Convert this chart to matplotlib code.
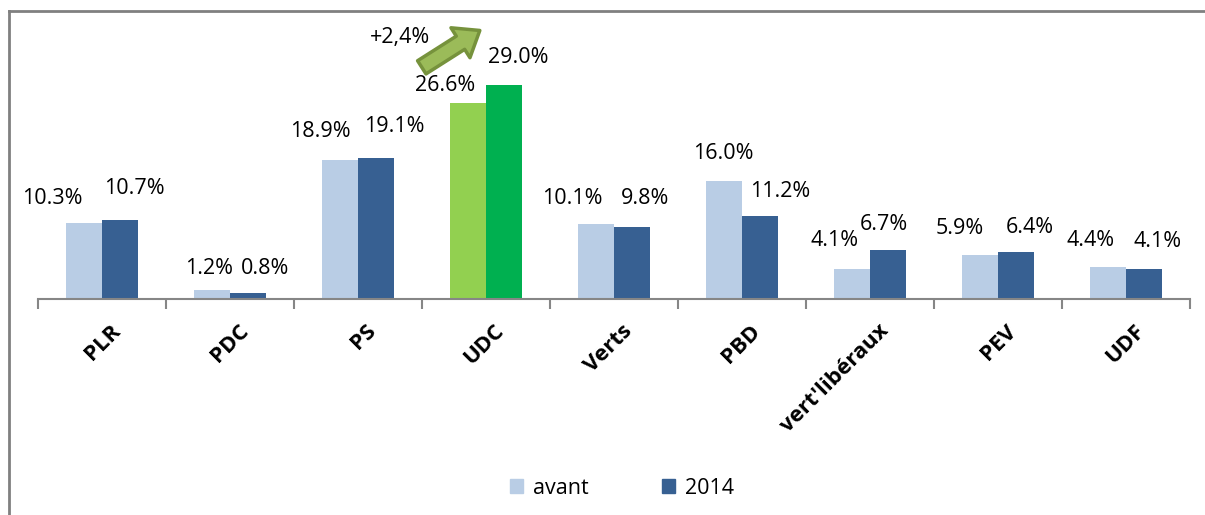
import numpy as np
import matplotlib.pyplot as plt
from matplotlib.patches import FancyArrowPatch, Patch
from matplotlib.lines import Line2D

plt.rcParams['font.family'] = ['Open Sans', 'DejaVu Sans']

partis = ["PLR", "PDC", "PS", "UDC", "Verts", "PBD", "vert'libéraux", "PEV", "UDF"]
avant = [10.3, 1.2, 18.9, 26.6, 10.1, 16.0, 4.1, 5.9, 4.4]
an2014 = [10.7, 0.8, 19.1, 29.0, 9.8, 11.2, 6.7, 6.4, 4.1]
hausse = "+2,4%"

# label offsets in pixels (dx, dy) from the top of each bar
off_avant = [(-32, 25), (-3, 22), (-20, 28), (-23, 17), (-24, 26), (-1, 27), (-18, 28), (-20, 27), (-18, 26)]
off_2014 = [(14, 32), (17, 25), (18, 32), (14, 28), (13, 28), (20, 25), (-4, 25), (14, 24), (14, 27)]

c_avant = '#B9CDE5'
c_2014 = '#376092'
c_udc_avant = '#92D050'
c_udc_2014 = '#00B050'

fig = plt.figure(figsize=(12.05, 5.15), dpi=100)
ax = fig.add_axes([38/1205, 1-299/515, (1190-38)/1205, (299-12)/515])

x = np.arange(len(partis))
w = 0.28
col_a = [c_udc_avant if p == "UDC" else c_avant for p in partis]
col_b = [c_udc_2014 if p == "UDC" else c_2014 for p in partis]
ax.bar(x - w/2, avant, w, color=col_a)
ax.bar(x + w/2, an2014, w, color=col_b)

for i in range(len(partis)):
    ax.annotate(f"{avant[i]:.1f}%", (x[i] - w/2, avant[i]), xytext=off_avant[i],
                textcoords='offset pixels', ha='center', va='center', fontsize=15.5)
    ax.annotate(f"{an2014[i]:.1f}%", (x[i] + w/2, an2014[i]), xytext=off_2014[i],
                textcoords='offset pixels', ha='center', va='center', fontsize=15.5)

ax.set_xlim(-0.5, len(partis) - 0.5)
ax.set_ylim(0, 38.9)
for s in ['top', 'right', 'left']:
    ax.spines[s].set_visible(False)
ax.spines['bottom'].set_color('#868686')
ax.spines['bottom'].set_linewidth(1.5)
ax.set_yticks([])
ax.set_xticks(np.arange(-0.5, len(partis)))
ax.set_xticklabels([])
ax.tick_params(axis='x', length=7, color='#868686', width=1.5)
for i, p in enumerate(partis):
    ax.text(x[i] + 0.06, -2.9, p, rotation=45, ha='right', va='top', rotation_mode='anchor',
            fontsize=16, fontweight='bold')

# arrow for UDC increase
arr = FancyArrowPatch((2.48, 31.2), (2.97, 36.6),
                      arrowstyle='simple,head_width=1.7,head_length=1.1,tail_width=0.75',
                      mutation_scale=15, facecolor='#9BBB59', edgecolor='#76923C', linewidth=2.5)
ax.add_patch(arr)
ax.text(2.33, 35.4, hausse, ha='center', va='center', fontsize=15.5)

handles = [Patch(color=c_avant), Patch(color=c_2014)]
fig.legend(handles, ['avant', '2014'], loc='center', bbox_to_anchor=(622/1205, 1-488/515),
           ncol=2, frameon=False, fontsize=15.5, handlelength=0.6, handleheight=0.6,
           columnspacing=3.4, handletextpad=0.45)

# outer border (left and top only)
fig.add_artist(Line2D([9/1205, 9/1205], [0, 1-11/515], color='#808080', lw=2, transform=fig.transFigure))
fig.add_artist(Line2D([9/1205, 1], [1-11/515, 1-11/515], color='#808080', lw=2, transform=fig.transFigure))

fig.savefig('out.png', dpi=100)
